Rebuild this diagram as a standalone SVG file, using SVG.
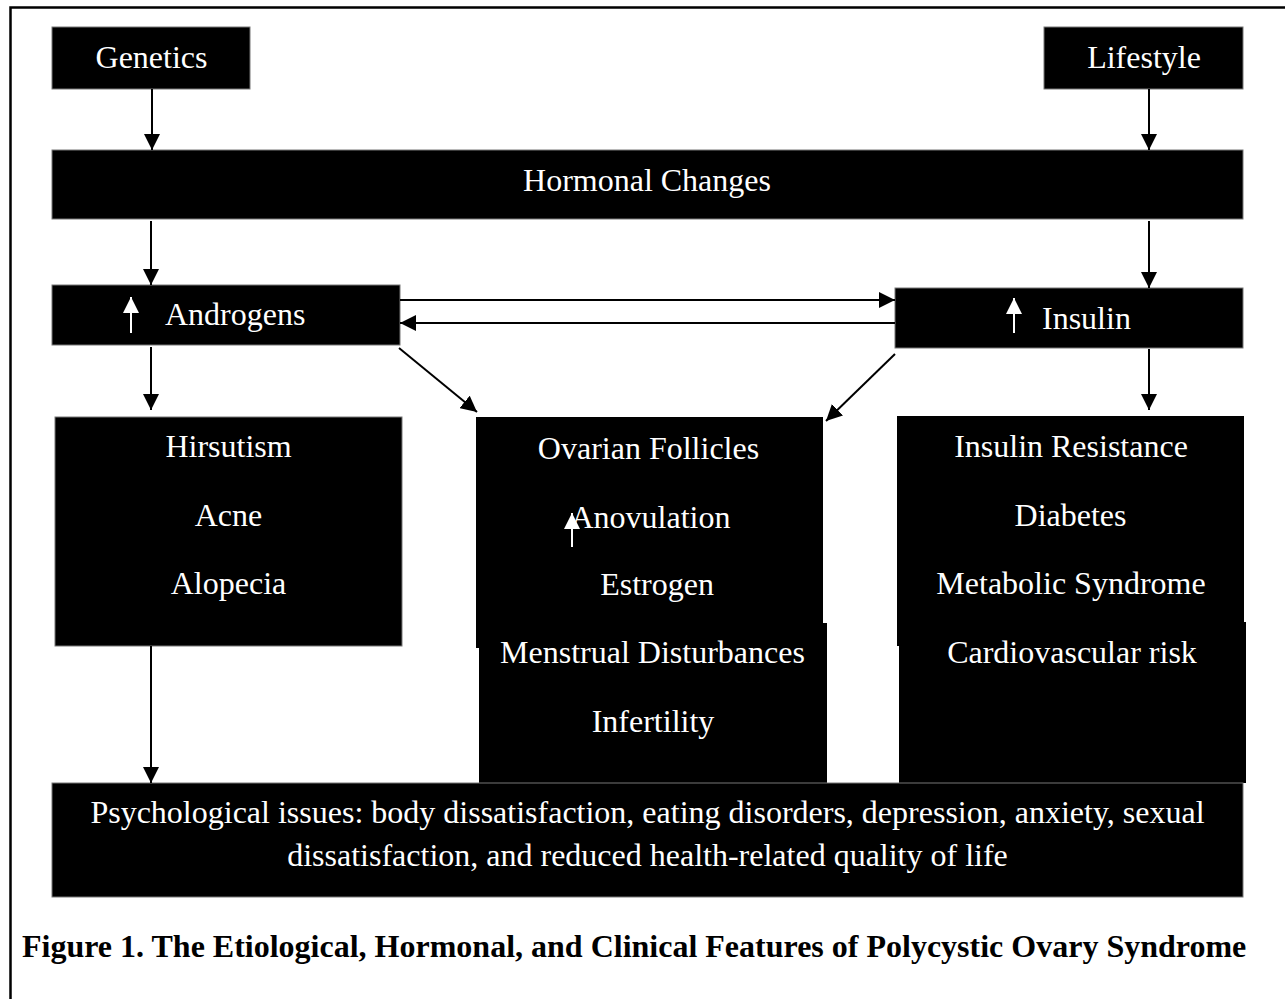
<svg xmlns="http://www.w3.org/2000/svg" width="1285" height="999" viewBox="0 0 1285 999">
<defs>
<marker id="ah" viewBox="0 0 16 16" refX="16" refY="8" markerWidth="16" markerHeight="16" markerUnits="userSpaceOnUse" orient="auto">
<path d="M0,0 L16,8 L0,16 z" fill="#000"/>
</marker>
<marker id="wh" viewBox="0 0 16 16" refX="16" refY="8" markerWidth="16" markerHeight="16" markerUnits="userSpaceOnUse" orient="auto">
<path d="M0,0 L16,8 L0,16 z" fill="#fff"/>
</marker>
</defs>
<style>
.box{fill:#000;stroke:#777;stroke-width:1}
.t{fill:#fff;font-family:"Liberation Serif","Times New Roman",serif;font-size:32px;text-anchor:middle}
.conn{stroke:#000;stroke-width:2;fill:none;marker-end:url(#ah)}
.up{stroke:#fff;stroke-width:2;fill:none;marker-end:url(#wh)}
.cap{fill:#000;font-family:"Liberation Serif","Times New Roman",serif;font-size:32px;font-weight:bold}
</style>
<rect width="1285" height="999" fill="#fff"/>
<path d="M10.5,1000 V7.5 H1286" stroke="#000" stroke-width="2.5" fill="none"/>

<g id="genetics"><rect class="box" x="52" y="27" width="198" height="62"/><text class="t" x="151.5" y="68">Genetics</text></g>
<g id="lifestyle"><rect class="box" x="1044" y="27" width="199" height="62"/><text class="t" x="1144" y="68">Lifestyle</text></g>
<g id="hormonal"><rect class="box" x="52" y="150" width="1191" height="69"/><text class="t" x="647" y="191">Hormonal Changes</text></g>
<g id="androgens"><rect class="box" x="52" y="285" width="348" height="60"/><text class="t" x="165" y="325" style="text-anchor:start">Androgens</text><path class="up" d="M131,333 V297"/></g>
<g id="insulin"><rect class="box" x="895" y="288" width="348" height="60"/><text class="t" x="1042" y="329" style="text-anchor:start">Insulin</text><path class="up" d="M1014,333 V298"/></g>
<g id="androgen-effects"><rect class="box" x="55" y="417" width="347" height="229"/>
<text class="t" x="228.5" y="457">Hirsutism</text><text class="t" x="228.5" y="526">Acne</text><text class="t" x="228.5" y="594">Alopecia</text></g>
<g id="ovarian"><rect x="476" y="417" width="347" height="231" fill="#000"/><rect x="479" y="623" width="348" height="160" fill="#000"/>
<text class="t" x="648.5" y="459">Ovarian Follicles</text><text class="t" x="650.5" y="528">Anovulation</text><path class="up" d="M572,547 V513"/><text class="t" x="657" y="595">Estrogen</text><text class="t" x="652.5" y="663">Menstrual Disturbances</text><text class="t" x="653" y="732">Infertility</text></g>
<g id="insulin-effects"><rect x="897" y="416" width="347" height="230" fill="#000"/><rect x="899" y="622" width="347" height="161" fill="#000"/>
<text class="t" x="1071" y="457">Insulin Resistance</text><text class="t" x="1070.5" y="526">Diabetes</text><text class="t" x="1071" y="594">Metabolic Syndrome</text><text class="t" x="1072" y="663">Cardiovascular risk</text></g>
<g id="psych"><rect class="box" x="52" y="783" width="1191" height="114"/>
<text class="t" x="647.5" y="823">Psychological issues: body dissatisfaction, eating disorders, depression, anxiety, sexual</text>
<text class="t" x="647.5" y="866">dissatisfaction, and reduced health-related quality of life</text></g>

<g id="connectors">
<path class="conn" d="M152,89 V150"/>
<path class="conn" d="M1149,89 V150"/>
<path class="conn" d="M151,221 V285"/>
<path class="conn" d="M1149,221 V288"/>
<path class="conn" d="M400,300 H895"/>
<path class="conn" d="M895,323 H400"/>
<path class="conn" d="M151,347 V410"/>
<path class="conn" d="M1149,349 V410"/>
<path class="conn" d="M399,348 L477,412"/>
<path class="conn" d="M895,354 L826,421"/>
<path class="conn" d="M151,646 V783"/>
</g>
<text class="cap" x="22" y="957">Figure 1. The Etiological, Hormonal, and Clinical Features of Polycystic Ovary Syndrome</text>
</svg>
